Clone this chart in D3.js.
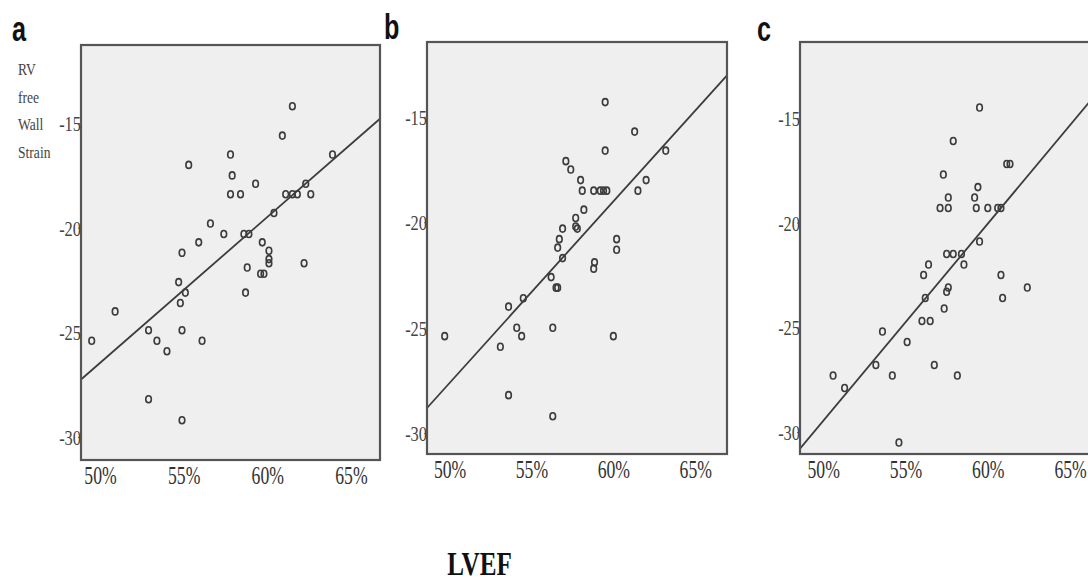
<!DOCTYPE html>
<html><head><meta charset="utf-8">
<script src="https://cdn.jsdelivr.net/npm/d3@7"></script>
<style>html,body{margin:0;padding:0;background:#fff;}svg{display:block;}</style>
</head><body>
<svg id="chart" width="1088" height="584"></svg>
<script>
// ---- data ----
const panelLetters = ["a", "b", "c"];
const xTickValues = [50, 55, 60, 65];
const xTickLabels = ["50%", "55%", "60%", "65%"];
const yTickValues = [-15, -20, -25, -30];
const yTickLabels = ["-15", "-20", "-25", "-30"];
const yAxisTitle = ["RV", "free", "Wall", "Strain"];
const xAxisTitle = "LVEF";

const lvefA = [49.5,50.9,52.9,53.4,54.0,52.9,54.9,54.9,56.1,54.8,54.7,55.1,54.9,55.9,56.6,57.4,55.3,57.8,57.9,57.8,58.4,59.3,58.6,58.9,58.8,58.7,59.7,59.6,59.8,60.1,60.1,60.1,60.4,61.1,61.5,61.8,62.3,62.6,62.2,60.9,61.5,63.9];
const strainA = [-25.4,-24.0,-24.9,-25.4,-25.9,-28.2,-29.2,-24.9,-25.4,-23.6,-22.6,-23.1,-21.2,-20.7,-19.8,-20.3,-17.0,-16.5,-17.5,-18.4,-18.4,-17.9,-20.3,-20.3,-21.9,-23.1,-20.7,-22.2,-22.2,-21.1,-21.5,-21.7,-19.3,-18.4,-18.4,-18.4,-17.9,-18.4,-21.7,-15.6,-14.2,-16.5];

const lvefB = [49.7,53.1,53.6,53.6,54.1,54.4,54.5,56.3,56.3,56.2,56.5,56.6,56.9,56.7,56.6,56.9,57.7,57.7,57.8,58.2,57.1,57.4,58.0,58.1,58.8,59.2,59.4,59.6,59.5,61.3,59.5,63.2,62.0,61.5,60.2,60.2,58.85,58.8,60.0];
const strainB = [-25.4,-25.9,-24.0,-28.2,-25.0,-25.4,-23.6,-29.2,-25.0,-22.6,-23.1,-23.1,-21.7,-20.8,-21.2,-20.3,-19.8,-20.2,-20.3,-19.4,-17.1,-17.5,-18.0,-18.5,-18.5,-18.5,-18.5,-18.5,-14.3,-15.7,-16.6,-16.6,-18.0,-18.5,-20.8,-21.3,-21.9,-22.2,-25.4];

const lvefC = [59.5,57.9,61.15,61.35,57.3,59.4,57.6,59.2,57.1,57.6,59.3,60.0,60.6,60.8,59.5,57.5,57.9,58.4,58.55,56.4,56.1,60.8,57.6,57.5,56.2,62.4,60.9,57.35,56.0,56.5,53.6,55.1,53.2,56.75,50.6,54.2,58.15,51.3,54.6];
const strainC = [-14.5,-16.1,-17.2,-17.2,-17.7,-18.3,-18.8,-18.8,-19.3,-19.3,-19.3,-19.3,-19.3,-19.3,-20.9,-21.5,-21.5,-21.5,-22.0,-22.0,-22.5,-22.5,-23.1,-23.3,-23.6,-23.1,-23.6,-24.1,-24.7,-24.7,-25.2,-25.7,-26.8,-26.8,-27.3,-27.3,-27.3,-27.9,-30.5];

// fit lines (slope, intercept) as drawn in the reference
const fitSlopes = [0.697, 0.861, 0.9417];
const fitIntercepts = [-61.31, -70.67, -76.55];

// axis domains of each panel
const xDomains = [[48.86, 66.74], [48.62, 66.94], [48.59, 66.21]];
const yDomains = [[-31.1, -11.27], [-30.99, -11.45], [-31.05, -11.37]];

// ---- layout ----
const frames = [
  {left: 81, right: 380, top: 45, bottom: 460},
  {left: 427, right: 727, top: 42, bottom: 454},
  {left: 800, right: 1090, top: 42, bottom: 454}
];
const letterPos = [[12, 41], [384, 39], [757, 41]];

const series = [
  {x: lvefA, y: strainA},
  {x: lvefB, y: strainB},
  {x: lvefC, y: strainC}
];

const svg = d3.select("#chart");
const serif = "'Liberation Serif', 'Times New Roman', serif";

series.forEach((s, i) => {
  const f = frames[i];
  const x = d3.scaleLinear().domain(xDomains[i]).range([f.left, f.right]);
  const y = d3.scaleLinear().domain(yDomains[i]).range([f.bottom, f.top]);
  const g = svg.append("g");

  const clipId = "clip" + i;
  g.append("clipPath").attr("id", clipId)
    .append("rect").attr("x", f.left).attr("y", f.top)
    .attr("width", f.right - f.left).attr("height", f.bottom - f.top);

  g.append("rect").attr("x", f.left).attr("y", f.top)
    .attr("width", f.right - f.left).attr("height", f.bottom - f.top)
    .attr("fill", "#efefef");

  const plot = g.append("g").attr("clip-path", `url(#${clipId})`);

  // regression line
  const xd = xDomains[i];
  plot.append("line")
    .attr("x1", x(xd[0])).attr("y1", y(fitSlopes[i] * xd[0] + fitIntercepts[i]))
    .attr("x2", x(xd[1])).attr("y2", y(fitSlopes[i] * xd[1] + fitIntercepts[i]))
    .attr("stroke", "#3c3c3c").attr("stroke-width", 1.8);

  // points
  plot.selectAll("ellipse").data(d3.range(s.x.length)).join("ellipse")
    .attr("cx", j => x(s.x[j])).attr("cy", j => y(s.y[j]))
    .attr("rx", 2.8).attr("ry", 3.5)
    .attr("fill", "none").attr("stroke", "#3c3c3c").attr("stroke-width", 1.6);

  // frame
  g.append("rect").attr("x", f.left).attr("y", f.top)
    .attr("width", f.right - f.left).attr("height", f.bottom - f.top)
    .attr("fill", "none").attr("stroke", "#555").attr("stroke-width", 2.2);

  // y axis ticks
  const yAxis = d3.axisLeft(y).tickValues(yTickValues)
    .tickFormat((d, k) => yTickLabels[k]).tickSize(3).tickPadding(1);
  const ya = g.append("g").attr("transform", `translate(${f.left},0)`).call(yAxis);
  ya.select(".domain").remove();
  ya.selectAll(".tick line").attr("stroke", "#666");
  ya.selectAll(".tick text")
    .attr("font-family", serif).attr("font-size", 21).attr("fill", "#444")
    .attr("x", 0).attr("dy", "0.35em")
    .attr("transform", "scale(0.78,1)")
    .attr("text-anchor", "end");

  // x axis labels
  const xAxis = d3.axisBottom(x).tickValues(xTickValues)
    .tickFormat((d, k) => xTickLabels[k]).tickSize(0).tickPadding(0);
  const xa = g.append("g").attr("transform", `translate(0,${f.bottom})`).call(xAxis);
  xa.select(".domain").remove();
  xa.selectAll(".tick text")
    .attr("font-family", serif).attr("font-size", 26).attr("fill", "#333")
    .attr("y", 0).attr("dy", 0)
    .attr("transform", "translate(0,24) scale(0.68,1)");

  // panel letter
  svg.append("text")
    .attr("transform", `translate(${letterPos[i][0]},${letterPos[i][1]}) scale(0.7,1)`)
    .attr("font-family", "'Liberation Sans', Arial, sans-serif")
    .attr("font-weight", "bold").attr("font-size", 36).attr("fill", "#111")
    .text(panelLetters[i]);
});

// y axis title (panel a)
const titleG = svg.append("g");
yAxisTitle.forEach((t, k) => {
  titleG.append("text")
    .attr("transform", `translate(18,${75 + k * 27.5}) scale(0.8,1)`)
    .attr("font-family", serif).attr("font-size", 17).attr("fill", "#444")
    .text(t);
});

// x axis title
svg.append("text")
  .attr("transform", "translate(479.5,575) scale(0.74,1)")
  .attr("text-anchor", "middle")
  .attr("font-family", serif).attr("font-weight", "bold")
  .attr("font-size", 34).attr("fill", "#111")
  .text(xAxisTitle);
</script>
</body></html>
